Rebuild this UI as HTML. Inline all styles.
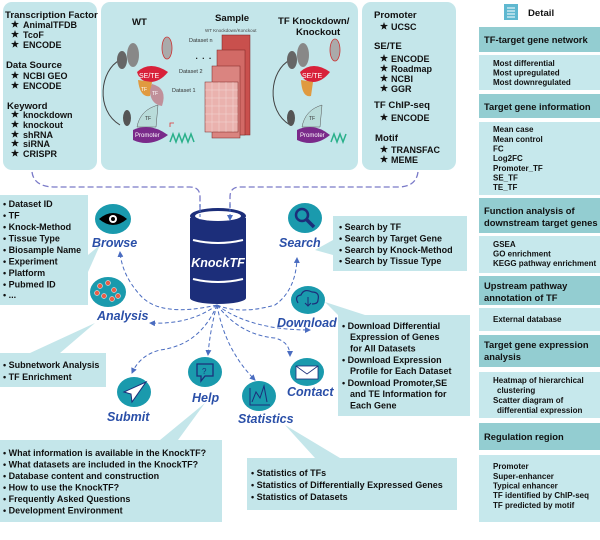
<!DOCTYPE html>
<html><head><meta charset="utf-8"><style>
html,body{margin:0;padding:0;background:#fff;}
svg{display:block;font-family:"Liberation Sans",sans-serif;}
.h{font-weight:bold;font-size:9.6px;fill:#111;}
.i{font-weight:bold;font-size:9px;fill:#111;}
.rh{font-weight:bold;font-size:9.4px;fill:#111;}
.ri{font-weight:bold;font-size:8px;fill:#111;}
.lab{font-weight:bold;font-style:italic;font-size:12.5px;fill:#2a4fa8;}
.d{fill:none;stroke:#4a6cc0;stroke-width:1;stroke-dasharray:4,2.5;}
.dt{fill:none;stroke:#7a7ac8;stroke-width:1.3;stroke-dasharray:6,3;}
</style></head><body>
<svg width="600" height="540" viewBox="0 0 600 540" xmlns="http://www.w3.org/2000/svg">
<defs>
<marker id="a" markerWidth="6" markerHeight="6" refX="5" refY="3" orient="auto"><path d="M0,0 L6,3 L0,6 z" fill="#4a6cc0"/></marker>
<symbol id="star" viewBox="0 0 10 10"><path d="M5,0 L6.2,3.6 L10,3.7 L7,6 L8.1,9.6 L5,7.5 L1.9,9.6 L3,6 L0,3.7 L3.8,3.6z" fill="#111"/></symbol>
</defs>

<rect x="3" y="2" width="94" height="168" rx="9" fill="#c4e6ea"/>
<rect x="101" y="2" width="257" height="168" rx="9" fill="#c4e6ea"/>
<rect x="362" y="2" width="94" height="168" rx="9" fill="#c4e6ea"/>

<text class="h" x="5" y="18">Transcription Factor</text>
<use href="#star" x="11" y="20" width="8" height="8"/><text class="i" x="23" y="28">AnimalTFDB</text>
<use href="#star" x="11" y="30" width="8" height="8"/><text class="i" x="23" y="38">TcoF</text>
<use href="#star" x="11" y="40" width="8" height="8"/><text class="i" x="23" y="48">ENCODE</text>
<text class="h" x="6" y="68">Data Source</text>
<use href="#star" x="11" y="71" width="8" height="8"/><text class="i" x="23" y="79">NCBI GEO</text>
<use href="#star" x="11" y="81" width="8" height="8"/><text class="i" x="23" y="89">ENCODE</text>
<text class="h" x="7" y="109">Keyword</text>
<use href="#star" x="11" y="110" width="8" height="8"/><text class="i" x="23" y="118">knockdown</text>
<use href="#star" x="11" y="120" width="8" height="8"/><text class="i" x="23" y="128">knockout</text>
<use href="#star" x="11" y="130" width="8" height="8"/><text class="i" x="23" y="138">shRNA</text>
<use href="#star" x="11" y="139" width="8" height="8"/><text class="i" x="23" y="147">siRNA</text>
<use href="#star" x="11" y="149" width="8" height="8"/><text class="i" x="23" y="157">CRISPR</text>

<text class="h" x="374" y="18">Promoter</text>
<use href="#star" x="380" y="22" width="8" height="8"/><text class="i" x="391" y="30">UCSC</text>
<text class="h" x="374" y="49">SE/TE</text>
<use href="#star" x="380" y="54" width="8" height="8"/><text class="i" x="391" y="62">ENCODE</text>
<use href="#star" x="380" y="64" width="8" height="8"/><text class="i" x="391" y="72">Roadmap</text>
<use href="#star" x="380" y="74" width="8" height="8"/><text class="i" x="391" y="82">NCBI</text>
<use href="#star" x="380" y="84" width="8" height="8"/><text class="i" x="391" y="92">GGR</text>
<text class="h" x="374" y="108">TF ChIP-seq</text>
<use href="#star" x="380" y="113" width="8" height="8"/><text class="i" x="391" y="121">ENCODE</text>
<text class="h" x="375" y="141">Motif</text>
<use href="#star" x="380" y="145" width="8" height="8"/><text class="i" x="391" y="153">TRANSFAC</text>
<use href="#star" x="380" y="155" width="8" height="8"/><text class="i" x="391" y="163">MEME</text>

<text class="h" x="132" y="25">WT</text>
<text class="h" x="215" y="21">Sample</text>
<text x="205" y="32" style="font-size:4.5px;fill:#444">WT Knockdown/Konckout</text>
<text class="h" x="278" y="24">TF Knockdown/</text>
<text class="h" x="296" y="35">Knockout</text>
<text x="189" y="42" style="font-size:5.5px;fill:#333">Dataset n</text>
<text x="195" y="59" style="font-size:12px;fill:#111">. . .</text>
<text x="179" y="73" style="font-size:5.5px;fill:#333">Dataset 2</text>
<text x="172" y="92" style="font-size:5.5px;fill:#333">Dataset 1</text>
<g stroke="#7a2020" stroke-width="0.5">
<rect x="222" y="35" width="28" height="100" fill="#c9504d"/>
<rect x="217" y="50" width="28" height="85" fill="#d26a66"/>
<rect x="212" y="66" width="28" height="72" fill="#da8480"/>
<rect x="205" y="82" width="33" height="50" fill="#eab2ae"/>
</g>
<g stroke="#fff" stroke-width="0.4" opacity="0.6">
<path d="M205,90H238M205,98H238M205,106H238M205,114H238M205,122H238M212,82V132M219,82V132M226,82V132M233,82V132"/>
</g>
<path d="M120,125 C95,110 100,70 120,60" fill="none" stroke="#444" stroke-width="1"/>
<ellipse cx="122" cy="60" rx="5" ry="9" fill="#666"/>
<ellipse cx="133" cy="55" rx="6" ry="12" fill="#888"/>
<ellipse cx="167" cy="48" rx="5" ry="11" fill="#aaa" stroke="#c33" stroke-width="0.8"/>
<path d="M137,72 Q150,60 168,72 Q160,82 150,82 Q140,82 137,72z" fill="#d8213a"/>
<text x="139" y="78" style="font-size:7px;fill:#fff">SE/TE</text>
<path d="M138,80 L152,82 L150,96 Q140,98 138,80z" fill="#e09a40"/>
<text x="141" y="91" style="font-size:5px;fill:#fff">TF</text>
<path d="M152,84 Q168,88 162,106 Q150,104 150,90z" fill="#c0909a"/>
<text x="152" y="95" style="font-size:5px;fill:#fff">TF</text>
<path d="M137,127 Q140,110 158,105 L156,127z" fill="#b9dcda" stroke="#555" stroke-width="0.5"/>
<text x="145" y="120" style="font-size:5px;fill:#333">TF</text>
<path d="M133,130 Q150,122 168,135 Q150,148 133,140z" fill="#7a2a8a"/>
<text x="135" y="137" style="font-size:6px;fill:#fff">Promoter</text>
<ellipse cx="127" cy="118" rx="4" ry="8" fill="#555"/>
<path d="M170,142 l3,-8 l3,8 l3,-8 l3,8 l3,-8 l3,8 l3,-8 l3,8" fill="none" stroke="#2ab08a" stroke-width="1.5"/>
<path d="M170,127 v-4 h4" fill="none" stroke="#d33" stroke-width="0.8"/>
<path d="M290,125 C265,110 270,70 290,60" fill="none" stroke="#444" stroke-width="1"/>
<ellipse cx="292" cy="60" rx="5" ry="9" fill="#666"/>
<ellipse cx="303" cy="55" rx="6" ry="12" fill="#888"/>
<ellipse cx="335" cy="50" rx="5" ry="11" fill="#aaa" stroke="#c33" stroke-width="0.8"/>
<path d="M300,72 Q313,60 330,72 Q322,82 313,82 Q303,82 300,72z" fill="#d8213a"/>
<text x="302" y="78" style="font-size:7px;fill:#fff">SE/TE</text>
<path d="M301,80 L313,82 L311,96 Q302,98 301,80z" fill="#e09a40"/>
<path d="M302,127 Q305,110 322,105 L320,127z" fill="#b9dcda" stroke="#555" stroke-width="0.5"/>
<text x="309" y="120" style="font-size:5px;fill:#333">TF</text>
<path d="M297,130 Q314,122 330,135 Q314,148 297,140z" fill="#7a2a8a"/>
<text x="300" y="137" style="font-size:6px;fill:#fff">Promoter</text>
<ellipse cx="291" cy="118" rx="4" ry="8" fill="#555"/>
<path d="M331,142 l3,-8 l3,8 l3,-8 l3,8 l3,-8" fill="none" stroke="#2ab08a" stroke-width="1.5"/>

<rect x="504" y="4" width="14" height="16" fill="#5fb8d0"/>
<path d="M507,8h8M507,11h8M507,14h8M507,17h8" stroke="#fff" stroke-width="1"/>
<text class="h" x="528" y="16">Detail</text>

<g>
<rect x="479" y="27" width="121" height="25" fill="#93cdd1"/>
<text class="rh" x="484" y="43">TF-target gene network</text>
<rect x="479" y="55" width="121" height="35" fill="#c6e8ec"/>
<text class="ri" x="493" y="66">Most differential</text>
<text class="ri" x="493" y="75.5">Most upregulated</text>
<text class="ri" x="493" y="85">Most downregulated</text>
<rect x="479" y="94" width="121" height="24" fill="#93cdd1"/>
<text class="rh" x="484" y="110">Target gene information</text>
<rect x="479" y="122" width="121" height="73" fill="#c6e8ec"/>
<text class="ri" x="493" y="132">Mean case</text>
<text class="ri" x="493" y="142">Mean control</text>
<text class="ri" x="493" y="151.5">FC</text>
<text class="ri" x="493" y="161">Log2FC</text>
<text class="ri" x="493" y="171">Promoter_TF</text>
<text class="ri" x="493" y="180.5">SE_TF</text>
<text class="ri" x="493" y="190">TE_TF</text>
<rect x="479" y="198" width="121" height="35" fill="#93cdd1"/>
<text class="rh" x="484" y="214">Function analysis of</text>
<text class="rh" x="484" y="226">downstream target genes</text>
<rect x="479" y="236" width="121" height="37" fill="#c6e8ec"/>
<text class="ri" x="493" y="247">GSEA</text>
<text class="ri" x="493" y="256.5">GO enrichment</text>
<text class="ri" x="493" y="266">KEGG pathway enrichment</text>
<rect x="479" y="276" width="121" height="29" fill="#93cdd1"/>
<text class="rh" x="484" y="289">Upstream pathway</text>
<text class="rh" x="484" y="301">annotation of TF</text>
<rect x="479" y="308" width="121" height="23" fill="#c6e8ec"/>
<text class="ri" x="493" y="322">External database</text>
<rect x="479" y="335" width="121" height="32" fill="#93cdd1"/>
<text class="rh" x="484" y="348">Target gene expression</text>
<text class="rh" x="484" y="360">analysis</text>
<rect x="479" y="372" width="121" height="46" fill="#c6e8ec"/>
<text class="ri" x="493" y="383">Heatmap of hierarchical</text>
<text class="ri" x="497" y="393">clustering</text>
<text class="ri" x="493" y="403">Scatter diagram of</text>
<text class="ri" x="497" y="413">differential expression</text>
<rect x="479" y="423" width="121" height="27" fill="#93cdd1"/>
<text class="rh" x="484" y="440">Regulation region</text>
<rect x="479" y="455" width="121" height="67" fill="#c6e8ec"/>
<text class="ri" x="493" y="469">Promoter</text>
<text class="ri" x="493" y="479">Super-enhancer</text>
<text class="ri" x="493" y="488.5">Typical enhancer</text>
<text class="ri" x="493" y="498">TF identified by ChIP-seq</text>
<text class="ri" x="493" y="508">TF predicted by motif</text>
</g>

<g fill="#c4e6ea">
<path d="M0,195 H88 V305 H0z"/>
<path d="M88,255 L100,245 L88,272z"/>
<path d="M0,353 H106 V387 H0z M30,353 L95,323 L60,353z"/>
<path d="M0,440 H222 V522 H0z M160,440 L205,403 L178,440z"/>
<path d="M247,458 H457 V510 H247z M315,458 L285,425 L340,458z"/>
<path d="M333,216 H467 V271 H333z M333,240 L315,250 L333,255z"/>
<path d="M338,315 H470 V416 H338z M338,315 L325,302 L365,315z"/>
</g>
<g class="i">
<text x="3" y="207">• Dataset ID</text>
<text x="3" y="218.5">• TF</text>
<text x="3" y="230">• Knock-Method</text>
<text x="3" y="241.5">• Tissue Type</text>
<text x="3" y="253">• Biosample Name</text>
<text x="3" y="264.5">• Experiment</text>
<text x="3" y="276">• Platform</text>
<text x="3" y="287.5">• Pubmed ID</text>
<text x="3" y="298">• ...</text>
<text x="3" y="368">• Subnetwork Analysis</text>
<text x="3" y="380">• TF Enrichment</text>
<text x="3" y="456">• What information is available in the KnockTF?</text>
<text x="3" y="467.5">• What datasets are included in the KnockTF?</text>
<text x="3" y="479">• Database content and construction</text>
<text x="3" y="490.5">• How to use the KnockTF?</text>
<text x="3" y="502">• Frequently Asked Questions</text>
<text x="3" y="513.5">• Development Environment</text>
<text x="251" y="476">• Statistics of TFs</text>
<text x="251" y="488">• Statistics of Differentially Expressed Genes</text>
<text x="251" y="500">• Statistics of Datasets</text>
<text x="339" y="230">• Search by TF</text>
<text x="339" y="241.5">• Search by Target Gene</text>
<text x="339" y="253">• Search by Knock-Method</text>
<text x="339" y="264">• Search by Tissue Type</text>
<text x="342" y="329">• Download Differential</text>
<text x="350" y="340">Expression of Genes</text>
<text x="350" y="351.5">for All Datasets</text>
<text x="342" y="363">• Download Expression</text>
<text x="350" y="374">Profile for Each Dataset</text>
<text x="342" y="386">• Download Promoter,SE</text>
<text x="350" y="397">and TE Information for</text>
<text x="350" y="408.5">Each Gene</text>
</g>

<path class="dt" d="M32,172 Q34,187 55,187 H190 Q200,187 200,197 V218" marker-end="url(#a)"/>
<path class="dt" d="M418,172 Q416,187 398,187 H240 Q230,187 230,197 V218" marker-end="url(#a)"/>

<g>
<rect x="190" y="218" width="56" height="80" fill="#1c2e7a"/>
<ellipse cx="218" cy="298" rx="28" ry="6" fill="#1c2e7a"/>
<ellipse cx="218" cy="216" rx="28" ry="8" fill="#1c2e7a"/>
<ellipse cx="218" cy="216" rx="23" ry="5" fill="#fff"/>
<path d="M193,240 Q218,246 243,240 M193,279 Q218,285 243,279" stroke="#fff" stroke-width="2" fill="none"/>
<text x="218" y="267" text-anchor="middle" style="font-weight:bold;font-style:italic;font-size:12.5px;fill:#fff">KnockTF</text>
</g>
<path d="M200,204 V220 M230,204 V220" stroke="#4a6cc0" stroke-dasharray="3,2" marker-end="url(#a)"/>

<g class="d">
<path d="M217,305 Q160,318 140,295 Q122,275 120,252" marker-end="url(#a)"/>
<path d="M217,305 Q190,325 150,323" marker-end="url(#a)"/>
<path d="M217,305 Q200,345 160,350 Q140,355 132,373" marker-end="url(#a)"/>
<path d="M217,305 Q210,330 208,355" marker-end="url(#a)"/>
<path d="M217,305 Q225,350 255,380" marker-end="url(#a)"/>
<path d="M217,305 Q240,335 275,338 Q290,342 290,356" marker-end="url(#a)"/>
<path d="M217,305 Q250,330 310,330" marker-end="url(#a)"/>
<path d="M217,305 Q240,315 275,305 Q296,290 297,258" marker-end="url(#a)"/>
</g>

<g fill="#1a9aad">
<ellipse cx="113" cy="219" rx="18" ry="15"/>
<ellipse cx="108" cy="292" rx="18" ry="15"/>
<ellipse cx="305" cy="218" rx="17" ry="15"/>
<ellipse cx="308" cy="300" rx="17" ry="14"/>
<ellipse cx="134" cy="392" rx="17" ry="15"/>
<ellipse cx="205" cy="372" rx="17" ry="15"/>
<ellipse cx="259" cy="396" rx="17" ry="15"/>
<ellipse cx="307" cy="372" rx="17" ry="14"/>
</g>
<path d="M99,219 Q113,207 127,219 Q113,231 99,219z" fill="#000"/><circle cx="113" cy="219" r="4" fill="#fff"/><circle cx="113" cy="219" r="2" fill="#000"/>
<g fill="#e8604a" stroke="#fff" stroke-width="0.5"><circle cx="100" cy="286" r="2.5"/><circle cx="108" cy="283" r="2.5"/><circle cx="114" cy="290" r="2.5"/><circle cx="104" cy="296" r="2.5"/><circle cx="112" cy="299" r="2.5"/><circle cx="118" cy="296" r="2.5"/><circle cx="97" cy="293" r="2.5"/></g>
<circle cx="302" cy="215" r="6" fill="none" stroke="#1c2e7a" stroke-width="2.5"/><path d="M306,219 L314,227" stroke="#1c2e7a" stroke-width="3.5"/>
<path d="M298,303 Q294,296 301,295 Q304,288 312,292 Q320,292 318,300 Q318,304 312,304" fill="none" stroke="#1c2e7a" stroke-width="1.2"/><path d="M308,297 V306 M305,303 L308,306 L311,303" fill="none" stroke="#1c2e7a" stroke-width="1"/>
<path d="M124,392 L146,382 L132,402 L131,394z" fill="#fff" stroke="#1c2e7a" stroke-width="1"/>
<path d="M197,364 h16 v12 h-8 l-4,5 v-5 h-4z" fill="none" stroke="#1c2e7a" stroke-width="1.3"/><text x="202" y="374" style="font-size:8px;fill:#1c2e7a">?</text>
<path d="M250,388 V405 H270 M252,402 L256,392 L260,398 L264,386 L267,402" fill="none" stroke="#1c2e7a" stroke-width="1"/>
<rect x="296" y="366" width="22" height="13" fill="#fff" stroke="#1c2e7a" stroke-width="0.8"/><path d="M296,366 L307,374 L318,366" fill="none" stroke="#1c2e7a" stroke-width="0.8"/>

<text class="lab" x="92" y="247">Browse</text>
<text class="lab" x="97" y="320">Analysis</text>
<text class="lab" x="279" y="247">Search</text>
<text class="lab" x="277" y="327">Download</text>
<text class="lab" x="107" y="421">Submit</text>
<text class="lab" x="192" y="402">Help</text>
<text class="lab" x="238" y="423">Statistics</text>
<text class="lab" x="287" y="396">Contact</text>
</svg>
</body></html>
